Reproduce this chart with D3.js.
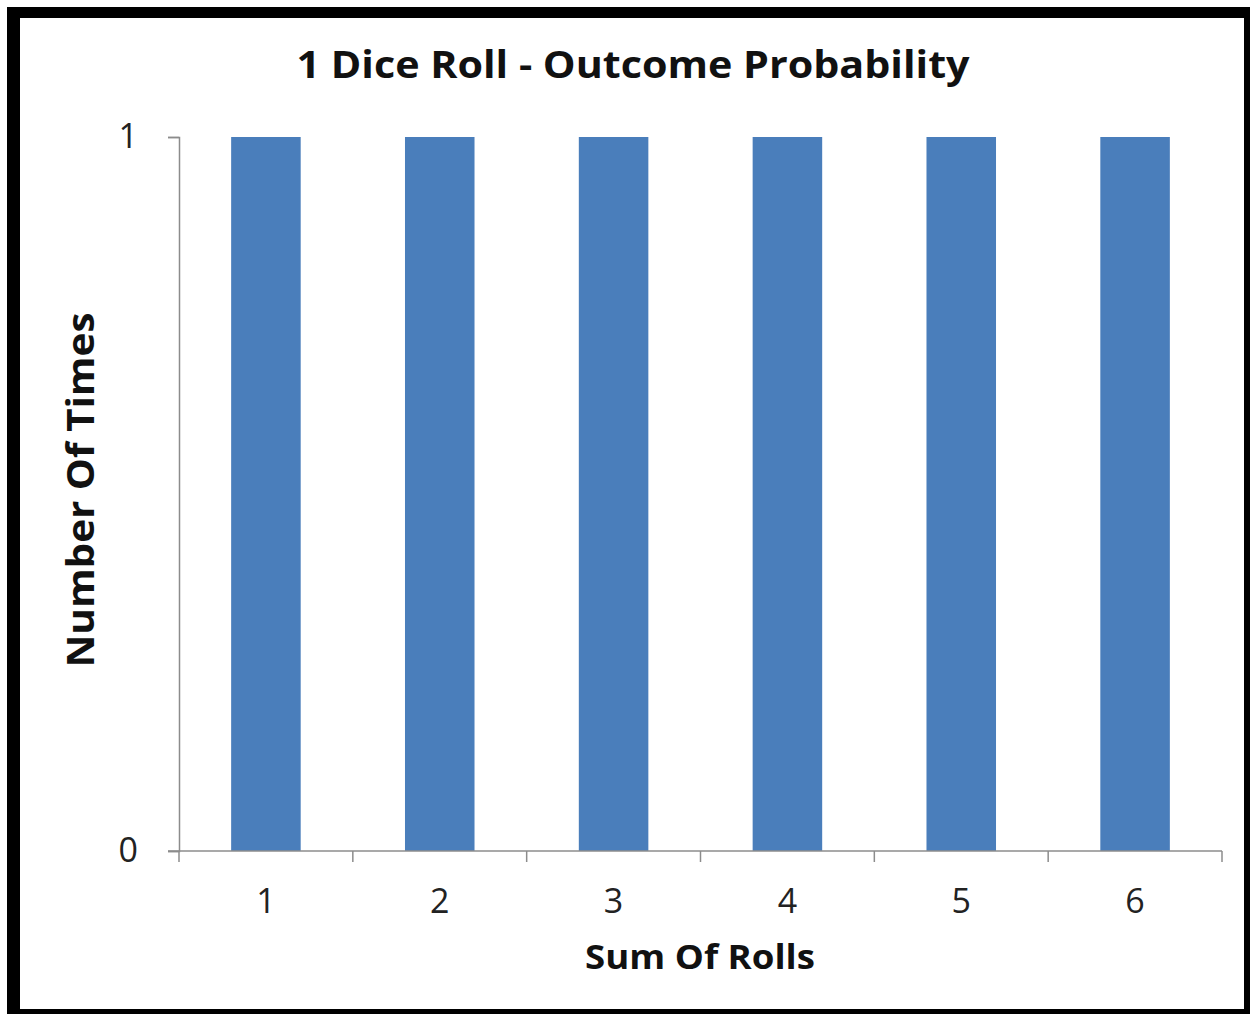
<!DOCTYPE html>
<html>
<head>
<meta charset="utf-8">
<script src="https://cdn.jsdelivr.net/npm/d3@7"></script>
<style>
  html, body { margin: 0; padding: 0; background: #fff; }
  svg { display: block; }
</style>
</head>
<body>
<svg id="chart" width="1250" height="1014"></svg>
<script>
// Outcomes of a single die and how many times each sum occurs
const outcomes = ["1", "2", "3", "4", "5", "6"];
const counts = [1, 1, 1, 1, 1, 1];
const yTicks = [0, 1];

const titleText = "1 Dice Roll - Outcome Probability";
const xTitle = "Sum Of Rolls";
const yTitle = "Number Of Times";

const svg = d3.select("#chart");
const W = 1250, H = 1014;
const font = "'Open Sans', 'Noto Sans', sans-serif";

// page background and black frame
svg.append("rect").attr("x", 0).attr("y", 0).attr("width", W).attr("height", H).attr("fill", "#fff");
const frame = svg.append("g").attr("fill", "#000");
frame.append("rect").attr("x", 7).attr("y", 7).attr("width", W - 7).attr("height", 11);   // top
frame.append("rect").attr("x", 7).attr("y", 7).attr("width", 13).attr("height", H - 7);   // left
frame.append("rect").attr("x", 1244).attr("y", 7).attr("width", 6).attr("height", H - 7); // right
frame.append("rect").attr("x", 7).attr("y", 1009).attr("width", W - 7).attr("height", 5); // bottom

const plot = { left: 179, right: 1222, top: 137, bottom: 851 };

// category bands (boundaries carry the ticks)
const xBand = d3.scaleBand().domain(outcomes).range([plot.left, plot.right]).padding(0);
// bars sit centred in each band
const xBar = d3.scaleBand().domain(outcomes).range([plot.left, plot.right])
  .paddingInner(0.6).paddingOuter(0.3);
const y = d3.scaleLinear().domain([0, 1]).range([plot.bottom, plot.top]);

const axisColor = "#8c8c8c";

// bars
svg.append("g").selectAll("rect")
  .data(outcomes.map((o, i) => ({ o, v: counts[i] })))
  .join("rect")
  .attr("x", d => xBar(d.o))
  .attr("width", xBar.bandwidth())
  .attr("y", d => y(d.v))
  .attr("height", d => y(0) - y(d.v))
  .attr("fill", "#4a7ebb");

// y axis
const yAxis = svg.append("g")
  .attr("transform", `translate(${plot.left},0)`)
  .call(d3.axisLeft(y).tickValues(yTicks).tickFormat(d3.format("d")).tickSize(11).tickPadding(30));
yAxis.select(".domain").attr("stroke", axisColor).attr("stroke-width", 1.5);
yAxis.selectAll(".tick line").attr("stroke", axisColor).attr("stroke-width", 1.5);
yAxis.selectAll(".tick text")
  .attr("font-family", font).attr("font-size", 34).attr("fill", "#222");

// x axis: ticks on band boundaries
const boundaries = outcomes.map(o => xBand(o)).concat([plot.right]);
const xAxisG = svg.append("g").attr("transform", `translate(0,${plot.bottom})`);
xAxisG.append("line")
  .attr("x1", plot.left - 11).attr("x2", plot.right)
  .attr("stroke", axisColor).attr("stroke-width", 1.5);
xAxisG.selectAll("line.tk")
  .data(boundaries)
  .join("line").attr("class", "tk")
  .attr("x1", d => d).attr("x2", d => d)
  .attr("y1", 0).attr("y2", 11)
  .attr("stroke", axisColor).attr("stroke-width", 1.5);
xAxisG.selectAll("text")
  .data(outcomes)
  .join("text")
  .attr("x", d => xBand(d) + xBand.bandwidth() / 2)
  .attr("y", 62)
  .attr("text-anchor", "middle")
  .attr("font-family", font).attr("font-size", 34).attr("fill", "#222")
  .text(d => d);

// titles, stretched to their set widths
svg.append("text")
  .attr("x", 633).attr("y", 78)
  .attr("text-anchor", "middle")
  .attr("font-family", font).attr("font-weight", "bold").attr("font-size", 37)
  .attr("textLength", 673).attr("lengthAdjust", "spacingAndGlyphs")
  .attr("fill", "#111")
  .text(titleText);

svg.append("text")
  .attr("x", 700).attr("y", 969)
  .attr("text-anchor", "middle")
  .attr("font-family", font).attr("font-weight", "bold").attr("font-size", 34)
  .attr("textLength", 230).attr("lengthAdjust", "spacingAndGlyphs")
  .attr("fill", "#111")
  .text(xTitle);

svg.append("text")
  .attr("transform", "translate(94,490) rotate(-90)")
  .attr("text-anchor", "middle")
  .attr("font-family", font).attr("font-weight", "bold").attr("font-size", 38)
  .attr("textLength", 355).attr("lengthAdjust", "spacingAndGlyphs")
  .attr("fill", "#111")
  .text(yTitle);
</script>
</body>
</html>
